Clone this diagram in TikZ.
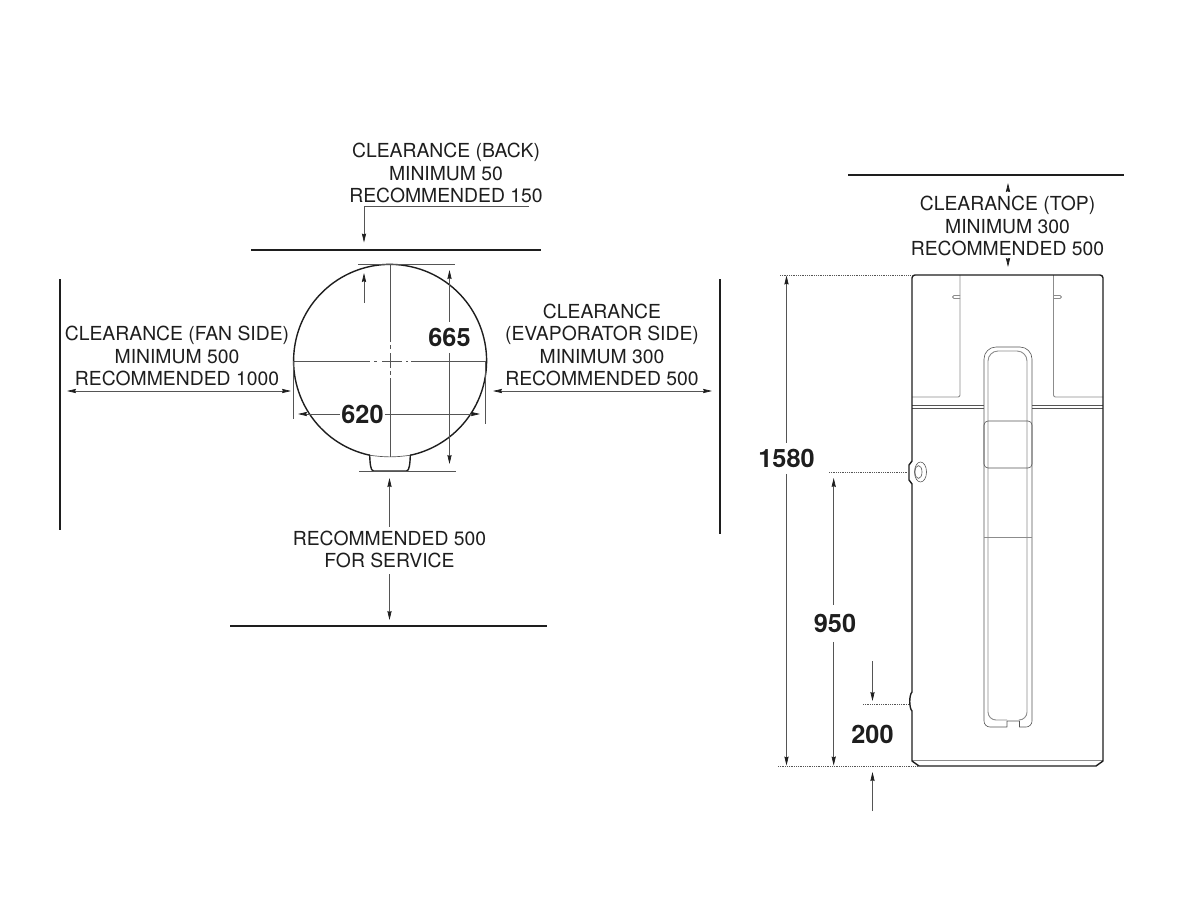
\documentclass[tikz,border=0pt]{standalone}
\usepackage{fontspec}
\setmainfont{TeX Gyre Heros}
\usetikzlibrary{arrows.meta}
\definecolor{ink}{HTML}{1E1E1E}
\definecolor{soft}{HTML}{555555}
\definecolor{pale}{HTML}{8C8C8C}
\tikzset{
  x=1pt,y=-1pt,
  tip/.tip={Stealth[length=9pt,width=4.2pt,inset=1pt,color=ink]},
  wall/.style={draw=ink,line width=1.6pt},
  outline/.style={draw=ink,line width=1.4pt,line cap=round,line join=round},
  dimline/.style={draw=soft,line width=.65pt},
  paleline/.style={draw=pale,line width=.9pt,line join=round},
  thinline/.style={draw=soft,line width=.6pt,line join=round},
  dotline/.style={draw=soft,line width=.9pt,dash pattern=on 1pt off .8pt},
  clabel/.style={font=\fontsize{19.35}{22.3}\selectfont,text=ink,align=center,inner sep=0pt},
  blabel/.style={font=\fontsize{25.3}{25.3}\selectfont\bfseries,text=ink,inner xsep=1pt,inner ysep=6pt},
}
\begin{document}
\begin{tikzpicture}
\useasboundingbox[fill=white] (0,0) rectangle (1200,900);

% ---------- labels
\node[clabel] (back) at (446,173) {CLEARANCE (BACK)\\MINIMUM 50\\RECOMMENDED 150};
\node[clabel] (top) at (1007.5,226) {CLEARANCE (TOP)\\MINIMUM 300\\RECOMMENDED 500};
\node[clabel] (fan) at (177,356) {CLEARANCE (FAN SIDE)\\MINIMUM 500\\RECOMMENDED 1000};
\node[clabel] (evap) at (602,345) {CLEARANCE\\(EVAPORATOR SIDE)\\MINIMUM 300\\RECOMMENDED 500};
\node[clabel] (service) at (389.5,549.5) {RECOMMENDED 500\\FOR SERVICE};
\node[blabel] (d665) at (449.5,337.5) {665};
\node[blabel] (d620) at (362.5,414) {620};
\node[blabel] (d1580) at (786.5,458.5) {1580};
\node[blabel,inner ysep=9pt] (d950) at (835,623.5) {950};
\node[blabel] (d200) at (872.5,734) {200};

% ---------- walls
\coordinate (wbackL) at (251,250); \coordinate (wbackR) at (541,250);
\coordinate (wfanT) at (60,279); \coordinate (wfanB) at (60,530);
\coordinate (wevT) at (720,279); \coordinate (wevB) at (720,534);
\coordinate (wsvL) at (230,626); \coordinate (wsvR) at (547,626);
\coordinate (wtopL) at (848,175); \coordinate (wtopR) at (1124,175);
\draw[wall] (wbackL) -- (wbackR);
\draw[wall] (wfanT) -- (wfanB);
\draw[wall] (wevT) -- (wevB);
\draw[wall] (wsvL) -- (wsvR);
\draw[wall] (wtopL) -- (wtopR);

% ---------- plan view
\draw[dimline] (293.5,361) -- (486.5,361);
\draw[dimline] (390,264.5) -- (390,457);
\foreach \a/\b in {370/374,377/382,402/406,408/411}
  \draw[white,line width=.9pt] (\a,361) -- (\b,361);
\foreach \a/\b in {342/345,349/353,368/371,375/378}
  \draw[white,line width=.9pt] (390,\a) -- (390,\b);
\draw[outline] (369.7,455.2) arc[start angle=102.2,delta angle=335.6,radius=96.5];
\draw[dimline] (369.7,455.2) to[bend right=8] (410.3,455.2);
\draw[outline] (369.7,455.2) .. controls (370,463) and (370.5,471) .. (373.5,471) -- (406.5,471) .. controls (409.5,471) and (410,463) .. (410.3,455.2);

\coordinate (e1T) at (358,264.3); \coordinate (e2T) at (455,264.3);
\coordinate (e1B) at (359,471); \coordinate (e2B) at (456,471);
\draw[dimline] (e1T) -- (e2T);
\draw[dimline] (e1B) -- (e2B);
\coordinate (sideLt) at (293.4,361); \coordinate (sideLb) at (293.4,419);
\coordinate (sideRt) at (485.5,361); \coordinate (sideRb) at (485.5,424);
\draw[dimline] (sideLt) -- (sideLb);
\draw[dimline] (sideRt) -- (sideRb);

% 665 and 620
\coordinate (t665) at (449.5,270); \coordinate (b665) at (449.5,464);
\draw[dimline,{tip}-] (t665) -- (d665.north);
\draw[dimline,-{tip}] (d665.south) -- (b665);
\coordinate (l620) at (298,414); \coordinate (r620) at (480,414);
\draw[dimline,{tip}-] (l620) -- (d620.west);
\draw[dimline,-{tip}] (d620.east) -- (r620);

% clearance arrows
\coordinate (bs) at (529,206); \coordinate (bk) at (364,206); \coordinate (bt) at (364,242.5);
\draw[dimline,-{tip}] (bs) -- (bk) -- (bt);
\coordinate (ups) at (364,302.5); \coordinate (upt) at (364,273);
\draw[dimline,-{tip}] (ups) -- (upt);
\coordinate (fanL) at (67,391); \coordinate (fanR) at (291,391);
\draw[dimline,{tip}-{tip}] (fanL) -- (fanR);
\coordinate (evL) at (493,391); \coordinate (evR) at (712,391);
\draw[dimline,{tip}-{tip}] (evL) -- (evR);
\coordinate (svT) at (389.5,478); \coordinate (svTe) at (389.5,527);
\draw[dimline,{tip}-] (svT) -- (svTe);
\coordinate (svB) at (389.5,620); \coordinate (svBs) at (389.5,574);
\draw[dimline,-{tip}] (svBs) -- (svB);
\coordinate (t1a) at (1008,192); \coordinate (t1b) at (1008,183);
\draw[dimline,-{tip}] (t1a) -- (t1b);
\coordinate (t2a) at (1008,258); \coordinate (t2b) at (1008,267);
\draw[dimline,-{tip}] (t2a) -- (t2b);

% ---------- side elevation: thin interior
\draw[paleline] (960,275) -- (960,395) arc[start angle=0,end angle=90,radius=2] -- (912,397);
\draw[paleline] (1053.5,275) -- (1053.5,395) arc[start angle=180,end angle=90,radius=2] -- (1103,397);
\draw[paleline] (960,295.5) -- (954,295.5) arc[start angle=270,end angle=90,radius=1.5] -- (960,298.5);
\draw[paleline] (1053.5,295.5) -- (1060,295.5) arc[start angle=-90,end angle=90,radius=1.5] -- (1053.5,298.5);
\draw[thinline] (912,405) -- (984,405);
\draw[thinline] (912,408.5) -- (984,408.5);
\draw[thinline] (1032,405) -- (1103,405);
\draw[thinline] (1032,408.5) -- (1103,408.5);
% handle outer
\draw[thinline] (984,721) -- (984,359) arc[start angle=180,end angle=270,radius=12] -- (1020,347) arc[start angle=270,end angle=360,radius=12] -- (1032,721)
  arc[start angle=0,end angle=90,radius=6] -- (1019.5,727) -- (1019.5,721) -- (1007,721) -- (1007,727) -- (990,727) arc[start angle=90,end angle=180,radius=6] -- cycle;
% handle inner
\draw[paleline] (988,712) -- (988,361) arc[start angle=180,end angle=270,radius=10] -- (1017,351) arc[start angle=270,end angle=360,radius=10] -- (1027,712)
  arc[start angle=0,end angle=90,radius=8] -- (1019.5,720);
\draw[paleline] (1007,720) -- (996,720) arc[start angle=90,end angle=180,radius=8];
% sliding box
\draw[thinline] (984,425) arc[start angle=180,end angle=270,radius=4] -- (1028,421) arc[start angle=270,end angle=360,radius=4] -- (1032,464) arc[start angle=0,end angle=90,radius=4] -- (988,468) arc[start angle=90,end angle=180,radius=4] -- cycle;
\draw[paleline] (984,537.5) -- (1032,537.5);
\draw[paleline] (912,760.5) -- (1103,760.5);
% socket
\draw[thinline] (920.5,472) ellipse[x radius=6,y radius=10];
\draw[thinline] (918.5,472) ellipse[x radius=3.5,y radius=6.5];

% side elevation: body outline
\draw[outline] (912,461) -- (912,278) arc[start angle=180,end angle=270,radius=3] -- (1100,275) arc[start angle=270,end angle=360,radius=3] -- (1103,761) -- (1096,766) -- (919,766) -- (912,761) -- (912,711) .. controls (909,708) and (909,695) .. (912,692) -- (912,484) -- (909,480) -- (909,465) -- cycle;

% dotted extension lines
\coordinate (ex1) at (780,275); \coordinate (ex1b) at (911,275);
\coordinate (ex2) at (829,472); \coordinate (ex2b) at (908,472);
\coordinate (ex3) at (863,704.5); \coordinate (ex3b) at (909,704.5);
\coordinate (ex4) at (778,766); \coordinate (ex4b) at (918,766);
\draw[dotline] (ex1) -- (ex1b);
\draw[dotline] (ex2) -- (ex2b);
\draw[dotline] (ex3) -- (ex3b);
\draw[dotline] (ex4) -- (ex4b);

% dimensions
\coordinate (t1580) at (786.5,275.5); \coordinate (b1580) at (786.5,765.5);
\draw[dimline,{tip}-] (t1580) -- (d1580.north);
\draw[dimline,-{tip}] (d1580.south) -- (b1580);
\coordinate (t950) at (833.7,478); \coordinate (b950) at (833.7,765.5);
\draw[dimline,{tip}-] (t950) -- (t950 |- d950.north);
\draw[dimline,-{tip}] (b950 |- d950.south) -- (b950);
\coordinate (a200s) at (872.5,661); \coordinate (a200t) at (872.5,701);
\draw[dimline,-{tip}] (a200s) -- (a200t);
\coordinate (b200s) at (872.5,811); \coordinate (b200t) at (872.5,772);
\draw[dimline,-{tip}] (b200s) -- (b200t);
\end{tikzpicture}
\end{document}
